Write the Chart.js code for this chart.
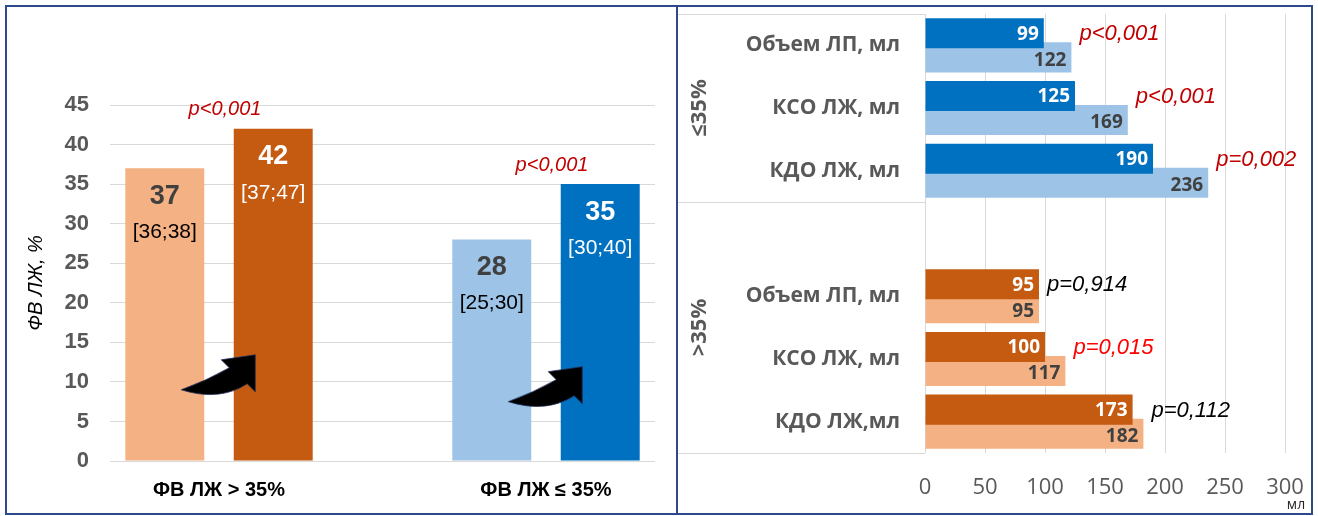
<!DOCTYPE html>
<html lang="ru">
<head>
<meta charset="utf-8">
<title>ФВ ЛЖ и объемы камер сердца</title>
<script src="https://cdn.jsdelivr.net/npm/chart.js@4.4.1/dist/chart.umd.min.js"></script>
<style>
  html, body { margin: 0; padding: 0; background: #fff; }
  #wrap { position: relative; width: 1318px; height: 516px; overflow: hidden; }
  #efChart { position: absolute; left: 0; top: 0; }
  #volChart { position: absolute; left: 678px; top: 0; }
  .frame { position: absolute; box-sizing: border-box; border: 2px solid #2f4a8a; pointer-events: none; }
  .divider { position: absolute; background: #2f4a8a; pointer-events: none; }
</style>
</head>
<body>
<div id="wrap">
  <canvas id="efChart" width="676" height="516"></canvas>
  <canvas id="volChart" width="633" height="516"></canvas>
  <div class="frame" style="left:5px;top:5px;width:1308px;height:510px"></div>
  <div class="divider" style="left:676px;top:5px;width:2px;height:510px"></div>
</div>
<script>
// ФВ ЛЖ до и после, по группам
const efGroups = ['ФВ ЛЖ > 35%', 'ФВ ЛЖ ≤ 35%'];
const efBefore = [37, 28];
const efAfter = [42, 35];
const efBeforeIqr = ['[36;38]', '[25;30]'];
const efAfterIqr = ['[37;47]', '[30;40]'];
const efP = ['p<0,001', 'p<0,001'];
const efTicks = [0, 5, 10, 15, 20, 25, 30, 35, 40, 45];

// объемы, мл
const volNamesLow = ['Объем ЛП, мл', 'КСО ЛЖ, мл', 'КДО ЛЖ, мл'];
const volNamesHigh = ['Объем ЛП, мл', 'КСО ЛЖ, мл', 'КДО ЛЖ,мл'];
const lowEfAfter = [99, 125, 190];
const lowEfBefore = [122, 169, 236];
const highEfAfter = [95, 100, 173];
const highEfBefore = [95, 117, 182];
const lowEfP = ['p<0,001', 'p<0,001', 'p=0,002'];
const highEfP = ['p=0,914', 'p=0,015', 'p=0,112'];
const volTicks = [0, 50, 100, 150, 200, 250, 300];
const volGroupTitles = ['≤35%', '>35%'];

const ORANGE_LIGHT = '#F4B183', ORANGE = '#C55A11';
const BLUE_LIGHT = '#9DC3E6', BLUE = '#0070C0';

Chart.defaults.font.family = '"Liberation Sans", Arial, sans-serif';

// группы стоят на 2-м и 5-м делении из шести
const efSlotOf = [1, 4];
const efSlots = ['', '', '', '', '', ''];
efSlotOf.forEach((s, g) => efSlots[s] = efGroups[g]);
function spread(values) {
  const out = efSlots.map(() => null);
  efSlotOf.forEach((s, g) => out[s] = values[g]);
  return out;
}
function groupOfSlot(i) { return efSlotOf.indexOf(i); }

function drawArrow(ctx, x, y) {
  ctx.save();
  ctx.translate(x, y);
  ctx.beginPath();
  ctx.moveTo(0, 0);
  ctx.quadraticCurveTo(38, 12, 66, -6);
  ctx.lineTo(74, 2);
  ctx.lineTo(74, -35);
  ctx.lineTo(40, -30);
  ctx.lineTo(48, -22);
  ctx.quadraticCurveTo(25, -9, 0, 0);
  ctx.closePath();
  ctx.fillStyle = '#000';
  ctx.fill();
  ctx.strokeStyle = '#1f2f5a';
  ctx.lineWidth = 0.8;
  ctx.stroke();
  ctx.restore();
}

// оси без запаса под крайние подписи, поля задаются layout.padding
function fixWidth(w) {
  return s => { s.width = w; s.paddingTop = 0; s.paddingBottom = 0; };
}
function fixHeight(h) {
  return s => { s.height = h; s.paddingLeft = 0; s.paddingRight = 0; };
}

const efLabels = {
  id: 'efLabels',
  afterDatasetsDraw(chart, args, opts) {
    const {ctx, scales: {x, y}} = chart;
    const before = chart.getDatasetMeta(0).data;
    const after = chart.getDatasetMeta(1).data;
    ctx.save();
    ctx.textAlign = 'center';
    ctx.textBaseline = 'middle';
    efSlotOf.forEach((s, g) => {
      const b = before[s], a = after[s];
      // значения и интерквартильный размах внутри столбцов
      ctx.font = 'bold 27px "Liberation Sans"';
      ctx.fillStyle = '#404040';
      ctx.fillText(efBefore[g], b.x, b.y + 28);
      ctx.fillStyle = '#fff';
      ctx.fillText(efAfter[g], a.x, a.y + 28);
      ctx.font = '21px "Liberation Sans"';
      ctx.fillStyle = '#000';
      ctx.fillText(efBeforeIqr[g], b.x, b.y + 64);
      ctx.fillStyle = '#fff';
      ctx.fillText(efAfterIqr[g], a.x, a.y + 64);
      // уровень значимости над парой
      ctx.font = 'italic 20px "Liberation Sans"';
      ctx.fillStyle = '#C00000';
      ctx.fillText(efP[g], x.getPixelForValue(s) + 6, Math.min(a.y, b.y) - 19);
      // стрелка от "до" к "после"
      drawArrow(ctx, b.x + b.width / 2 - 23, y.getPixelForValue(opts.arrowLevels[g]));
    });
    ctx.restore();
  }
};

new Chart(document.getElementById('efChart'), {
  type: 'bar',
  data: {
    labels: efSlots,
    datasets: [
      {
        label: 'До',
        data: spread(efBefore),
        backgroundColor: c => groupOfSlot(c.dataIndex) === 0 ? ORANGE_LIGHT : BLUE_LIGHT,
        categoryPercentage: 1.99,
        barPercentage: 0.728
      },
      {
        label: 'После',
        data: spread(efAfter),
        backgroundColor: c => groupOfSlot(c.dataIndex) === 0 ? ORANGE : BLUE,
        categoryPercentage: 1.99,
        barPercentage: 0.728
      }
    ]
  },
  options: {
    responsive: false,
    animation: false,
    layout: {padding: {top: 105, right: 21, bottom: 0, left: 0}},
    plugins: {
      legend: {display: false},
      tooltip: {enabled: false},
      efLabels: {arrowLevels: [9, 7.5]}
    },
    scales: {
      x: {
        offset: false,
        grid: {display: false, drawTicks: false},
        border: {display: false},
        ticks: {autoSkip: false, maxRotation: 0, padding: 17, color: '#000', font: {size: 20, weight: 'bold'}},
        afterFit: fixHeight(55)
      },
      y: {
        min: 0,
        max: 45,
        afterBuildTicks: s => { s.ticks = efTicks.map(v => ({value: v})); },
        grid: {color: '#D9D9D9', drawTicks: false},
        border: {display: false},
        ticks: {padding: 21, color: '#595959', font: {size: 22, weight: 'bold'}},
        title: {display: true, text: 'ФВ ЛЖ, %', color: '#000', font: {size: 20, style: 'italic'}, padding: {top: 24, bottom: 0}},
        afterFit: fixWidth(110)
      }
    }
  },
  plugins: [efLabels]
});

// строки правой диаграммы: две группы с пустой строкой между ними
const volRows = [...volNamesLow, '', ...volNamesHigh];
const volAfter = [...lowEfAfter, null, ...highEfAfter];
const volBefore = [...lowEfBefore, null, ...highEfBefore];
const volP = [...lowEfP, null, ...highEfP];
const pColors = ['#C00000', '#C00000', '#C00000', null, '#000', '#FF0000', '#000'];
const isLow = i => i < volNamesLow.length;

const volLabels = {
  id: 'volLabels',
  afterDatasetsDraw(chart) {
    const {ctx, chartArea, scales: {x, y}} = chart;
    const after = chart.getDatasetMeta(0).data;
    const before = chart.getDatasetMeta(1).data;
    ctx.save();
    ctx.textBaseline = 'middle';
    volRows.forEach((name, i) => {
      if (volAfter[i] == null) return;
      const a = after[i], b = before[i];
      ctx.font = 'bold 19px "Open Sans"';
      ctx.textAlign = 'right';
      ctx.fillStyle = '#fff';
      ctx.fillText(volAfter[i], a.x - 5, a.y + 1);
      ctx.fillStyle = '#404040';
      ctx.fillText(volBefore[i], b.x - 5, b.y + 3);
      ctx.font = 'italic 22px "Liberation Sans"';
      ctx.textAlign = 'left';
      ctx.fillStyle = pColors[i];
      ctx.fillText(volP[i], Math.max(a.x, b.x) + 8, a.y + 1);
    });

    // рамка групп слева от оси и их подписи
    const split = (y.getPixelForValue(volNamesLow.length - 1) + y.getPixelForValue(volNamesLow.length)) / 2;
    ctx.strokeStyle = '#D9D9D9';
    ctx.lineWidth = 1;
    [chartArea.top, split, chartArea.bottom].forEach(py => {
      ctx.beginPath();
      ctx.moveTo(0, Math.round(py) + 0.5);
      ctx.lineTo(chartArea.left, Math.round(py) + 0.5);
      ctx.stroke();
    });
    ctx.font = 'bold 22px "Open Sans"';
    ctx.fillStyle = '#595959';
    ctx.textAlign = 'center';
    [[chartArea.top, split], [split, chartArea.bottom]].forEach(([t, bt], g) => {
      ctx.save();
      ctx.translate(22, (t + bt) / 2);
      ctx.rotate(-Math.PI / 2);
      ctx.fillText(volGroupTitles[g], 0, 0);
      ctx.restore();
    });

    // единицы оси
    ctx.font = '14px "Open Sans"';
    ctx.fillStyle = '#262626';
    ctx.fillText('мл', x.getPixelForValue(volTicks[volTicks.length - 1]) + 11, 505);
    ctx.restore();
  }
};

new Chart(document.getElementById('volChart'), {
  type: 'bar',
  data: {
    labels: volRows,
    datasets: [
      {
        label: 'После',
        data: volAfter,
        backgroundColor: c => isLow(c.dataIndex) ? BLUE : ORANGE,
        categoryPercentage: 0.766,
        barPercentage: 1.25
      },
      {
        label: 'До',
        data: volBefore,
        backgroundColor: c => isLow(c.dataIndex) ? BLUE_LIGHT : ORANGE_LIGHT,
        categoryPercentage: 0.766,
        barPercentage: 1.25
      }
    ]
  },
  options: {
    indexAxis: 'y',
    responsive: false,
    animation: false,
    layout: {padding: {top: 14, right: 26, bottom: 0, left: 0}},
    plugins: {legend: {display: false}, tooltip: {enabled: false}},
    scales: {
      x: {
        min: 0,
        max: 300,
        afterBuildTicks: s => { s.ticks = volTicks.map(v => ({value: v})); },
        grid: {color: '#D9D9D9', drawTicks: false},
        border: {display: false},
        ticks: {padding: 22, color: '#595959', font: {family: '"Open Sans"', size: 22}},
        afterFit: fixHeight(63)
      },
      y: {
        grid: {display: false, drawTicks: false},
        border: {display: false},
        ticks: {autoSkip: false, padding: 25, color: '#595959', font: {family: '"Open Sans"', size: 21, weight: 'bold'}},
        afterFit: fixWidth(247)
      }
    }
  },
  plugins: [volLabels]
});
</script>
</body>
</html>
